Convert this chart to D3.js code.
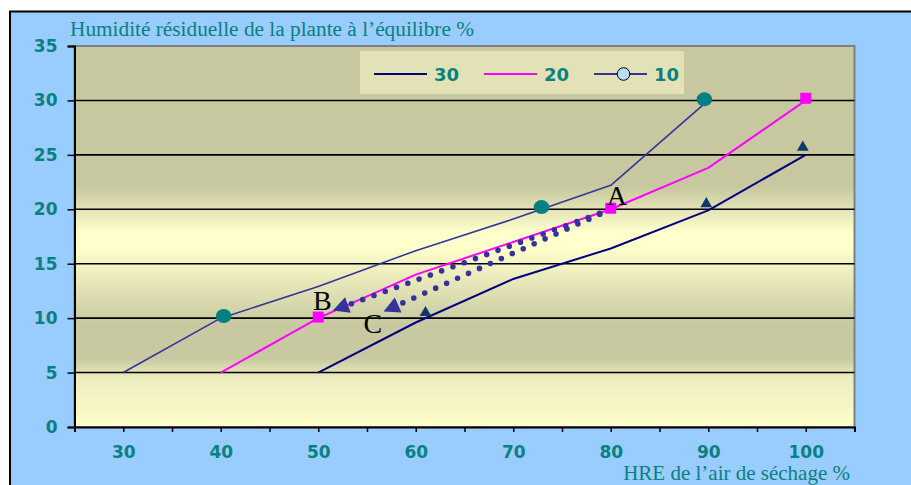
<!DOCTYPE html>
<html>
<head>
<meta charset="utf-8">
<script src="https://cdn.jsdelivr.net/npm/d3@7"></script>
<style>
  html, body { margin: 0; padding: 0; background: #ffffff; }
  svg { display: block; }
</style>
</head>
<body>
<svg id="chart" width="911" height="485"></svg>
<script>
// Equilibrium residual moisture of the plant versus relative humidity of the drying air

// Legend order and labels
const seriesNames = ["30", "20", "10"];

// Curve "30"
const hre30 = [50, 60, 70, 80, 90, 100];
const hum30 = [5, 9.6, 13.6, 16.4, 19.9, 25];
// Curve "20"
const hre20 = [40, 50, 60, 70, 80, 90, 100];
const hum20 = [5, 10, 14, 17, 20, 23.8, 30];
// Curve "10"
const hre10 = [30, 40, 50, 60, 70, 80, 90];
const hum10 = [5, 10, 12.9, 16.2, 19.1, 22.2, 30];

// Measured points
const pts30x = [61, 89.8, 99.7];
const pts30y = [10.5, 20.5, 25.7];
const pts20x = [50, 80, 100];
const pts20y = [10.1, 20.1, 30.2];
const pts10x = [40.3, 72.9, 89.6];
const pts10y = [10.2, 20.2, 30.1];

// Axis ticks
const xTickLabels = [30, 40, 50, 60, 70, 80, 90, 100];
const xTickMarks = [25, 30, 35, 40, 45, 50, 55, 60, 65, 70, 75, 80, 85, 90, 95, 100, 105];
const yTickLabels = [0, 5, 10, 15, 20, 25, 30, 35];

// Drying paths A -> B and A -> C
const pathStartX = [80, 80];
const pathStartY = [20, 20];
const pathEndX = [51.5, 56.7];
const pathEndY = [10.7, 10.6];

// Point letters
const letterText = ["A", "B", "C"];
const letterX = [79.6, 49.45, 54.65];
const letterY = [20.4, 10.75, 8.65];

const svg = d3.select("#chart");
const W = 911, H = 485;
const plot = { left: 74.5, right: 854.5, top: 46, bottom: 427 };

const x = d3.scaleLinear().domain([25, 105]).range([plot.left, plot.right]);
const y = d3.scaleLinear().domain([0, 35]).range([plot.bottom, plot.top]);

const teal = "#0a8080";
const c30 = "#000080", c20 = "#ff00ff", c10 = "#34349c";

// Chart area
svg.append("rect")
  .attr("x", 10).attr("y", 11.5)
  .attr("width", W + 10).attr("height", H + 10)
  .attr("fill", "#99ccff")
  .attr("stroke", "#000").attr("stroke-width", 2);

// Plot area gradient
const defs = svg.append("defs");
const grad = defs.append("linearGradient")
  .attr("id", "plotFill").attr("x1", 0).attr("y1", 0).attr("x2", 0).attr("y2", 1);
[
  [0, "#c8c8a0"], [0.37, "#c8c8a0"], [0.49, "#ffffcc"], [0.53, "#ffffcc"],
  [0.73, "#c9c9a1"], [0.82, "#c9c9a1"], [0.87, "#ececbe"], [1, "#ffffcc"]
].forEach(s => grad.append("stop").attr("offset", s[0]).attr("stop-color", s[1]));

svg.append("rect")
  .attr("x", plot.left).attr("y", plot.top)
  .attr("width", plot.right - plot.left).attr("height", plot.bottom - plot.top)
  .attr("fill", "url(#plotFill)")
  .attr("stroke", "#808080").attr("stroke-width", 2);

// Horizontal gridlines
svg.append("g")
  .selectAll("line")
  .data(yTickLabels.filter(v => v > 0 && v < 35))
  .join("line")
  .attr("x1", plot.left).attr("x2", plot.right)
  .attr("y1", d => y(d)).attr("y2", d => y(d))
  .attr("stroke", "#000").attr("stroke-width", 1.6);

// Axes
const yAxis = svg.append("g")
  .attr("transform", `translate(${plot.left},0)`)
  .call(d3.axisLeft(y).tickValues(yTickLabels).tickSize(7).tickPadding(10));
const xAxis = svg.append("g")
  .attr("transform", `translate(0,${plot.bottom})`)
  .call(d3.axisBottom(x).tickValues(xTickMarks).tickSize(5)
    .tickFormat(d => xTickLabels.includes(d) ? d : "").tickPadding(14));

[yAxis, xAxis].forEach(g => {
  g.select(".domain").attr("stroke", "#000").attr("stroke-width", 2);
  g.selectAll(".tick line").attr("stroke", "#000").attr("stroke-width", 1.5);
  g.selectAll(".tick text")
    .attr("fill", teal)
    .attr("font-family", "DejaVu Sans, sans-serif")
    .attr("font-weight", "bold")
    .attr("font-size", 17);
});

// Axis titles
svg.append("text")
  .attr("x", 70).attr("y", 35.5)
  .attr("font-family", "Liberation Serif, Times New Roman, serif")
  .attr("font-size", 21.3).attr("fill", teal)
  .text("Humidité résiduelle de la plante à l’équilibre %");
svg.append("text")
  .attr("x", 850).attr("y", 479.5).attr("text-anchor", "end")
  .attr("font-family", "Liberation Serif, Times New Roman, serif")
  .attr("font-size", 21).attr("fill", teal)
  .text("HRE de l’air de séchage %");

// Curves
const line = d3.line().x(d => x(d[0])).y(d => y(d[1]));
const curves = [
  { xs: hre10, ys: hum10, color: c10, w: 1.6 },
  { xs: hre20, ys: hum20, color: c20, w: 2 },
  { xs: hre30, ys: hum30, color: c30, w: 2 }
];
curves.forEach(c => {
  svg.append("path")
    .attr("d", line(d3.zip(c.xs, c.ys)))
    .attr("fill", "none")
    .attr("stroke", c.color)
    .attr("stroke-width", c.w)
    .attr("stroke-linejoin", "round");
});

// Drying paths with arrowheads
const arrowLen = 16, arrowHalf = 8.2;
pathStartX.forEach((sx, i) => {
  const p0 = [x(sx), y(pathStartY[i])];
  const p1 = [x(pathEndX[i]), y(pathEndY[i])];
  const dx = p0[0] - p1[0], dy = p0[1] - p1[1];
  const len = Math.hypot(dx, dy);
  const ux = dx / len, uy = dy / len;
  const back = [p1[0] + ux * arrowLen, p1[1] + uy * arrowLen];
  svg.append("line")
    .attr("x1", p0[0]).attr("y1", p0[1])
    .attr("x2", back[0]).attr("y2", back[1])
    .attr("stroke", "#333399").attr("stroke-width", 5.6)
    .attr("stroke-linecap", "round")
    .attr("stroke-dasharray", "0 12");
  svg.append("path")
    .attr("d", d3.line()([
      p1,
      [back[0] - uy * arrowHalf, back[1] + ux * arrowHalf],
      [back[0] + uy * arrowHalf, back[1] - ux * arrowHalf]
    ]) + "Z")
    .attr("fill", "#333399");
});

// Measured points
svg.append("g").selectAll("path")
  .data(d3.zip(pts30x, pts30y))
  .join("path")
  .attr("transform", d => `translate(${x(d[0])},${y(d[1])})`)
  .attr("d", d3.symbol(d3.symbolTriangle, 60)())
  .attr("fill", "#0d3a6b");
svg.append("g").selectAll("path")
  .data(d3.zip(pts20x, pts20y))
  .join("path")
  .attr("transform", d => `translate(${x(d[0])},${y(d[1])})`)
  .attr("d", d3.symbol(d3.symbolSquare, 121)())
  .attr("fill", "#ff00ff");
svg.append("g").selectAll("ellipse")
  .data(d3.zip(pts10x, pts10y))
  .join("ellipse")
  .attr("cx", d => x(d[0])).attr("cy", d => y(d[1]))
  .attr("rx", 7.8).attr("ry", 7)
  .attr("fill", "#008080");

// Point letters
svg.append("g").selectAll("text")
  .data(letterText)
  .join("text")
  .attr("x", (d, i) => x(letterX[i]))
  .attr("y", (d, i) => y(letterY[i]))
  .attr("font-family", "Liberation Serif, Times New Roman, serif")
  .attr("font-size", 28).attr("fill", "#000")
  .text(d => d);

// Legend
const legend = svg.append("g");
legend.append("rect")
  .attr("x", 360).attr("y", 51).attr("width", 324).attr("height", 43)
  .attr("fill", "#e2e2b6");
const legendColors = [c30, c20, c10];
seriesNames.forEach((name, i) => {
  const lx = 374 + i * 110;
  legend.append("line")
    .attr("x1", lx).attr("x2", lx + 53)
    .attr("y1", 74).attr("y2", 74)
    .attr("stroke", legendColors[i]).attr("stroke-width", 2.2);
  if (i === 2) {
    legend.append("circle")
      .attr("cx", lx + 29.5).attr("cy", 74).attr("r", 6.3)
      .attr("fill", "#b7def0").attr("stroke", "#000").attr("stroke-width", 1);
  }
  legend.append("text")
    .attr("x", lx + 60).attr("y", 80.5)
    .attr("font-family", "DejaVu Sans, sans-serif")
    .attr("font-weight", "bold").attr("font-size", 18)
    .attr("fill", teal)
    .text(name);
});
</script>
</body>
</html>
